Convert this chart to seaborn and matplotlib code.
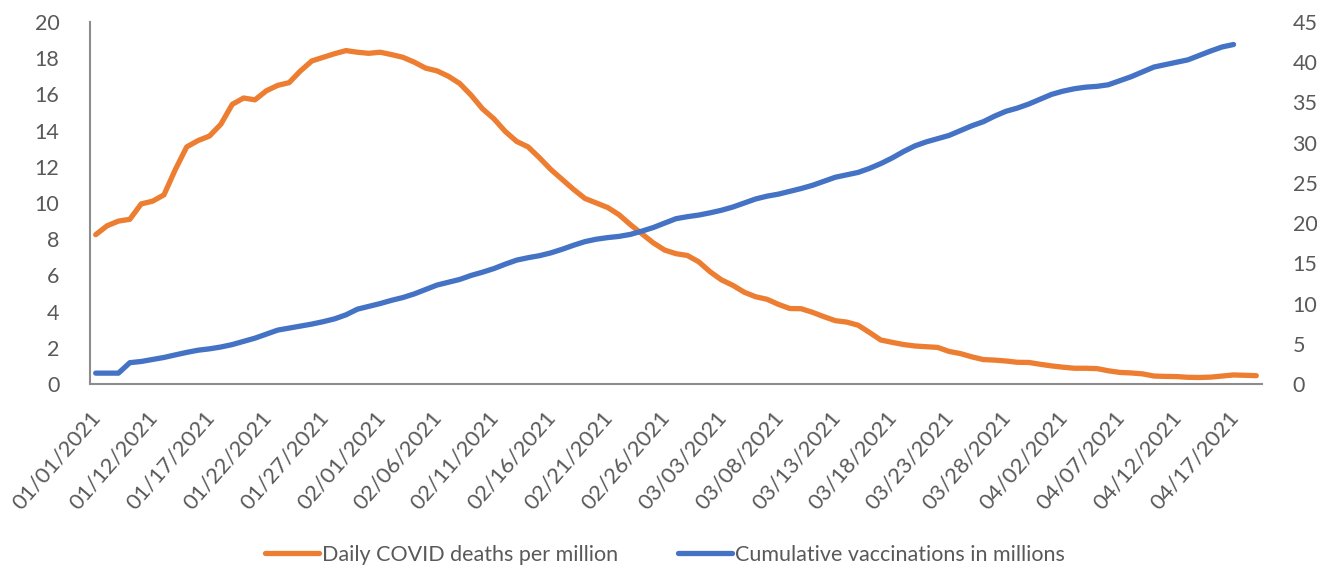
import numpy as np
import pandas as pd
import matplotlib
matplotlib.use("Agg")
import matplotlib.pyplot as plt
import matplotlib.transforms as mtransforms
import seaborn as sns

# ---- data ----
dates = ["01/01/2021"] + [d.strftime("%m/%d/%Y") for d in pd.date_range("2021-01-08", "2021-04-19")]

deaths = [8.25, 8.74, 9.0, 9.1, 9.95, 10.1, 10.45, 11.85, 13.1, 13.45,
          13.7, 14.35, 15.45, 15.8, 15.7, 16.2, 16.5, 16.65, 17.3, 17.85,
          18.05, 18.25, 18.42, 18.33, 18.27, 18.33, 18.2, 18.05, 17.78, 17.45,
          17.3, 17.0, 16.6, 15.95, 15.2, 14.65, 13.95, 13.4, 13.1, 12.5,
          11.85, 11.3, 10.75, 10.25, 10.0, 9.75, 9.35, 8.8, 8.3, 7.8,
          7.4, 7.2, 7.1, 6.75, 6.2, 5.75, 5.45, 5.07, 4.82, 4.68,
          4.4, 4.17, 4.16, 3.96, 3.72, 3.5, 3.42, 3.25, 2.85, 2.43,
          2.3, 2.18, 2.1, 2.06, 2.02, 1.8, 1.68, 1.5, 1.35, 1.32,
          1.27, 1.2, 1.19, 1.09, 1.0, 0.93, 0.87, 0.87, 0.85, 0.73,
          0.64, 0.61, 0.56, 0.44, 0.42, 0.41, 0.37, 0.36, 0.38, 0.44,
          0.5, 0.48, 0.46]

vaccinations = [1.35, 1.35, 1.35, 2.65, 2.8, 3.05, 3.3, 3.62, 3.93, 4.2,
                4.37, 4.6, 4.9, 5.3, 5.7, 6.2, 6.7, 6.95, 7.2, 7.45,
                7.75, 8.1, 8.6, 9.3, 9.65, 10.0, 10.4, 10.75, 11.2, 11.75,
                12.3, 12.65, 13.0, 13.5, 13.9, 14.35, 14.9, 15.4, 15.7, 15.95,
                16.3, 16.75, 17.25, 17.7, 18.0, 18.2, 18.35, 18.6, 19.0, 19.45,
                20.0, 20.55, 20.8, 21.0, 21.28, 21.6, 22.0, 22.5, 23.0, 23.35,
                23.6, 23.95, 24.3, 24.7, 25.2, 25.7, 26.0, 26.3, 26.8, 27.4,
                28.1, 28.9, 29.6, 30.1, 30.5, 30.9, 31.5, 32.1, 32.6, 33.3,
                33.9, 34.3, 34.8, 35.4, 36.0, 36.4, 36.7, 36.9, 37.0, 37.2,
                37.7, 38.2, 38.8, 39.4, 39.7, 40.0, 40.3, 40.85, 41.4, 41.9,
                42.2, np.nan, np.nan]

left_ticks = list(range(0, 21, 2))
right_ticks = list(range(0, 46, 5))

series_names = ["Daily COVID deaths per million", "Cumulative vaccinations in millions"]
colors = ["#ED7D31", "#4472C4"]

# ---- plot ----
sns.set_theme(style="white")
plt.rcParams["font.family"] = ["Lato", "DejaVu Sans"]
text_color = "#595959"
fs = 15.5

pos = np.arange(len(dates))
df = pd.DataFrame({"pos": pos, "deaths": deaths, "vacc": vaccinations})

fig = plt.figure(figsize=(13.17, 5.67), dpi=100)
ax = fig.add_axes([90 / 1317, 1 - 384 / 567, (1262 - 90) / 1317, (384 - 22) / 567])
ax2 = ax.twinx()

sns.lineplot(data=df, x="pos", y="deaths", ax=ax, color=colors[0], linewidth=3.8,
             solid_capstyle="round", solid_joinstyle="round", label=series_names[0], legend=False)
sns.lineplot(data=df, x="pos", y="vacc", ax=ax2, color=colors[1], linewidth=3.8,
             solid_capstyle="round", solid_joinstyle="round", label=series_names[1], legend=False)

ax.set_xlim(-0.5, len(dates) - 0.5)
ax.set_ylim(0, 20)
ax2.set_ylim(0, 45)
ax.set_yticks(left_ticks)
ax2.set_yticks(right_ticks)

tick_idx = list(range(0, len(dates), 5))
ax.set_xticks(tick_idx)
ax.set_xticklabels([dates[i] for i in tick_idx], rotation=49, ha="right",
                   rotation_mode="anchor", fontsize=16, color=text_color)
ax.tick_params(axis="x", length=0, pad=17)
shift = mtransforms.ScaledTranslation(-6 / 100, 0, fig.dpi_scale_trans)
for lbl in ax.get_xticklabels():
    lbl.set_transform(lbl.get_transform() + shift)
ax.tick_params(axis="y", length=0, pad=22, labelsize=fs, labelcolor=text_color)
ax2.tick_params(axis="y", length=0, pad=22, labelsize=fs, labelcolor=text_color)

for a in (ax, ax2):
    a.set_xlabel("")
    a.set_ylabel("")
    a.grid(False)
    for s in ["top", "right", "left", "bottom"]:
        a.spines[s].set_visible(False)
for s in ["left", "bottom"]:
    ax.spines[s].set_visible(True)
    ax.spines[s].set_color("#8c8c8c")
    ax.spines[s].set_linewidth(1.5)

h1, l1 = ax.get_legend_handles_labels()
h2, l2 = ax2.get_legend_handles_labels()
leg = fig.legend(h1 + h2, l1 + l2, loc="center", bbox_to_anchor=(0.505, 0.022), ncol=2,
                 frameon=False, fontsize=fs, handlelength=2.5, handletextpad=0.15,
                 columnspacing=2.8, labelcolor=text_color)

fig.savefig("out.png", dpi=100)
